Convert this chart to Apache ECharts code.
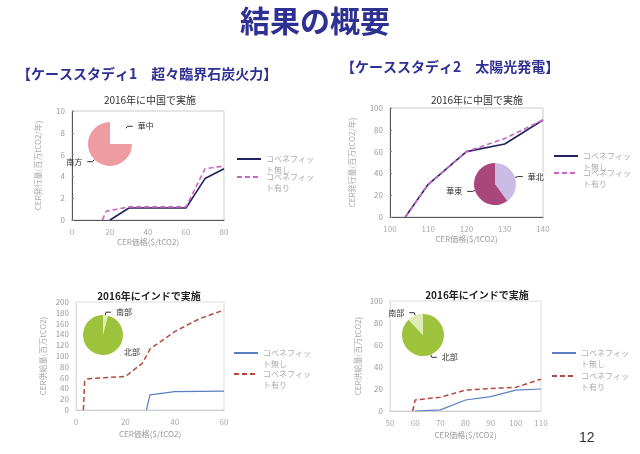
<!DOCTYPE html>
<html>
<head>
<meta charset="utf-8">
<script src="https://cdn.jsdelivr.net/npm/echarts@6/dist/echarts.min.js"></script>
<style>
html,body{margin:0;padding:0;background:#fff;}
#main{width:640px;height:454px;}
</style>
</head>
<body>
<div id="main"></div>
<script>
// ---- Data ----
var mainTitle = '結果の概要';
var case1Title = '【ケーススタディ1　超々臨界石炭火力】';
var case2Title = '【ケーススタディ2　太陽光発電】';
var chartTitles = ['2016年に中国で実施', '2016年に中国で実施', '2016年にインドで実施', '2016年にインドで実施'];
var legendNo = 'コベネフィット無し';
var legendYes = 'コベネフィット有り';
var xAxisName = 'CER価格($/tCO2)';
var yNameTop = 'CER発行量(百万tCO2/年)';
var yNameBottom = 'CER供給量(百万tCO2)';

// Chart 1: China, ultra-supercritical coal
var c1X_no = [20, 30, 60, 70, 80];
var c1Y_no = [0, 1.1, 1.1, 3.8, 4.7];
var c1X_yes = [16, 18, 30, 60, 70, 80];
var c1Y_yes = [0, 0.8, 1.2, 1.2, 4.7, 4.95];
var pie1Names = ['華中', '南方'];
var pie1Values = [25, 75];

// Chart 2: China, solar
var c2X = [104, 110, 120, 130, 140];
var c2Y_no = [0, 30, 60, 67, 89];
var c2Y_yes = [0, 30, 60, 72, 89];
var pie2Names = ['華北', '華東'];
var pie2Values = [40, 60];

// Chart 3: India, coal
var c3X_no = [28.5, 30, 40, 60];
var c3Y_no = [0, 28, 34, 35];
var c3X_yes = [3, 3.5, 5, 20, 27, 30, 40, 50, 60];
var c3Y_yes = [0, 53, 58, 62, 87, 113, 145, 169, 185];
var pie3Names = ['南部', '北部'];
var pie3Values = [4, 96];

// Chart 4: India, solar
var c4X_no = [60, 70, 80, 90, 100, 110];
var c4Y_no = [0, 1, 10, 13, 19, 20];
var c4X_yes = [59, 60, 70, 80, 90, 100, 110];
var c4Y_yes = [0, 10, 12.5, 19, 20.5, 21.5, 29];
var pie4Names = ['北部', '南部'];
var pie4Values = [88, 12];

var pageNumber = '12';

function pairs(xs, ys) { return xs.map(function (x, i) { return [x, ys[i]]; }); }

var FONT = '"Noto Sans CJK JP", "Noto Sans", sans-serif';
var navy = '#23225e', magenta = '#c866c8', blue = '#5b80c2', red = '#b5493f';

var chart = echarts.init(document.getElementById('main'), null, {renderer: 'canvas'});

function xAxisCfg(grid, min, max, interval, dark) {
  return {
    type: 'value', gridIndex: grid, min: min, max: max, interval: interval,
    name: xAxisName, nameLocation: 'middle', nameGap: grid >= 2 ? 20 : 18,
    nameTextStyle: {fontSize: 8, color: '#999', fontFamily: FONT},
    axisLine: {show: true, lineStyle: {color: dark ? '#555' : '#ccc', width: 1}},
    axisTick: {show: false},
    axisLabel: {fontSize: 8, color: '#aaa', margin: 8, fontFamily: FONT},
    splitLine: {show: false}
  };
}
function yAxisCfg(grid, min, max, interval, name, gap, dark) {
  return {
    type: 'value', gridIndex: grid, min: min, max: max, interval: interval,
    name: name, nameLocation: 'middle', nameGap: gap,
    nameTextStyle: {fontSize: 8, color: '#aaa', fontFamily: FONT},
    axisLine: {show: true, lineStyle: {color: dark ? '#555' : '#ddd', width: 1, type: dark ? 'solid' : 'dotted'}},
    axisTick: {show: dark, length: 2, inside: true, lineStyle: {color: '#888'}},
    axisLabel: {fontSize: 8, color: '#999', margin: 7, fontFamily: FONT},
    splitLine: {show: false}
  };
}
function lineSeries(name, data, xi, color, dashed, width) {
  return {
    type: 'line', name: name, xAxisIndex: xi, yAxisIndex: xi, data: data,
    symbol: 'none', silent: true, animation: false,
    lineStyle: {color: color, width: width, type: dashed ? [5, 3] : 'solid'},
    itemStyle: {color: color}
  };
}
function pieSeries(names, values, colors, center, radius, extra) {
  var s = {
    type: 'pie', center: center, radius: radius, startAngle: 90, clockwise: true,
    animation: false, silent: true,
    data: names.map(function (n, i) { return {name: n, value: values[i], itemStyle: {color: colors[i]}}; }),
    label: {show: true, position: 'outside', fontSize: 8, color: '#333', fontFamily: FONT, formatter: '{b}'},
    labelLine: {show: true, length: 3, length2: 5, lineStyle: {color: '#333', width: 1}}
  };
  if (extra) extra(s);
  return s;
}
var legendDisplay = {};
function legendCfg(name, display, left, iconY) {
  legendDisplay[name] = display;
  return {
    orient: 'vertical', left: left, top: iconY - 16.5, padding: 0,
    itemWidth: 24, itemHeight: 8, itemGap: 4, selectedMode: false,
    itemStyle: {opacity: 0, borderWidth: 0},
    data: [name],
    formatter: function (n) {
      var t = legendDisplay[n];
      return '\n' + t.slice(0, 6) + '\n' + t.slice(6);
    },
    textStyle: {fontSize: 8, color: '#aaa', lineHeight: 11, fontFamily: FONT}
  };
}

var n1 = legendNo + '(中国・石炭)', y1 = legendYes + '(中国・石炭)';
var n2 = legendNo + '(中国・太陽光)', y2 = legendYes + '(中国・太陽光)';
var n3 = legendNo + '(インド・石炭)', y3 = legendYes + '(インド・石炭)';
var n4 = legendNo + '(インド・太陽光)', y4 = legendYes + '(インド・太陽光)';

var option = {
  backgroundColor: '#fff',
  animation: false,
  textStyle: {fontFamily: FONT},
  title: [
    {text: mainTitle, left: 310, top: 1, textAlign: 'center',
      textStyle: {fontSize: 30, fontWeight: 'bold', color: '#2e3192', fontFamily: FONT}},
    {text: case1Title, left: 12, top: 62,
      textStyle: {fontSize: 14, fontWeight: 'bold', color: '#2e3192', fontFamily: FONT}},
    {text: case2Title, left: 336, top: 55,
      textStyle: {fontSize: 14, fontWeight: 'bold', color: '#2e3192', fontFamily: FONT}},
    {text: chartTitles[0], left: 145, top: 90, textAlign: 'center',
      textStyle: {fontSize: 10, fontWeight: 'normal', color: '#333', fontFamily: FONT}},
    {text: chartTitles[1], left: 472, top: 90, textAlign: 'center',
      textStyle: {fontSize: 10, fontWeight: 'normal', color: '#333', fontFamily: FONT}},
    {text: chartTitles[2], left: 144, top: 286, textAlign: 'center',
      textStyle: {fontSize: 10, fontWeight: 'bold', color: '#222', fontFamily: FONT}},
    {text: chartTitles[3], left: 472, top: 285, textAlign: 'center',
      textStyle: {fontSize: 10, fontWeight: 'bold', color: '#222', fontFamily: FONT}},
    {text: pageNumber, left: 574, top: 426,
      textStyle: {fontSize: 14, fontWeight: 'normal', color: '#333', fontFamily: 'Liberation Sans, sans-serif'}}
  ],
  grid: [
    {left: 72, top: 111, width: 152, height: 109, show: true, borderColor: '#ccc', borderWidth: 1, backgroundColor: 'transparent'},
    {left: 390, top: 108, width: 153, height: 109, show: true, borderColor: '#ccc', borderWidth: 1, backgroundColor: 'transparent'},
    {left: 76, top: 302, width: 148, height: 108, show: true, borderColor: '#ddd', borderWidth: 1, backgroundColor: 'transparent'},
    {left: 390, top: 301, width: 151, height: 110, show: true, borderColor: '#ddd', borderWidth: 1, backgroundColor: 'transparent'}
  ],
  xAxis: [
    xAxisCfg(0, 0, 80, 20, true),
    xAxisCfg(1, 100, 140, 10, true),
    xAxisCfg(2, 0, 60, 20, false),
    xAxisCfg(3, 50, 110, 10, false)
  ],
  yAxis: [
    yAxisCfg(0, 0, 10, 2, yNameTop, 30, true),
    yAxisCfg(1, 0, 100, 20, yNameTop, 34, true),
    yAxisCfg(2, 0, 200, 20, yNameBottom, 29, false),
    yAxisCfg(3, 0, 100, 20, yNameBottom, 28, false)
  ],
  legend: [
    legendCfg(n1, legendNo, 236, 159),
    legendCfg(y1, legendYes, 236, 177),
    legendCfg(n2, legendNo, 553, 156),
    legendCfg(y2, legendYes, 553, 173),
    legendCfg(n3, legendNo, 233, 353),
    legendCfg(y3, legendYes, 233, 374),
    legendCfg(n4, legendNo, 551, 353),
    legendCfg(y4, legendYes, 551, 376)
  ],
  series: [
    lineSeries(n1, pairs(c1X_no, c1Y_no), 0, navy, false, 1.6),
    lineSeries(y1, pairs(c1X_yes, c1Y_yes), 0, magenta, true, 1.6),
    lineSeries(n2, pairs(c2X, c2Y_no), 1, navy, false, 1.6),
    lineSeries(y2, pairs(c2X, c2Y_yes), 1, magenta, true, 1.6),
    lineSeries(n3, pairs(c3X_no, c3Y_no), 2, blue, false, 1.2),
    lineSeries(y3, pairs(c3X_yes, c3Y_yes), 2, red, true, 1.5),
    lineSeries(n4, pairs(c4X_no, c4Y_no), 3, blue, false, 1.2),
    lineSeries(y4, pairs(c4X_yes, c4Y_yes), 3, red, true, 1.5),
    pieSeries(pie1Names, pie1Values, ['#ffffff', '#ee9ca2'], [110, 144], 22),
    pieSeries(pie2Names, pie2Values, ['#cbbce6', '#a9467c'], [495, 184], 21),
    pieSeries(pie3Names, pie3Values, ['#e0eeb4', '#9dc23c'], [103, 335], 20, function (s) {
      s.data[1].labelLine = {show: false};
      s.labelLayout = function (p) {
        if (p.dataIndex === 1) {
          return {x: 124, y: 352, align: 'left', verticalAlign: 'middle'};
        }
        return {};
      };
    }),
    pieSeries(pie4Names, pie4Values, ['#9dc23c', '#dfecb6'], [423, 335], 21)
  ]
};
chart.setOption(option);
</script>
</body>
</html>
